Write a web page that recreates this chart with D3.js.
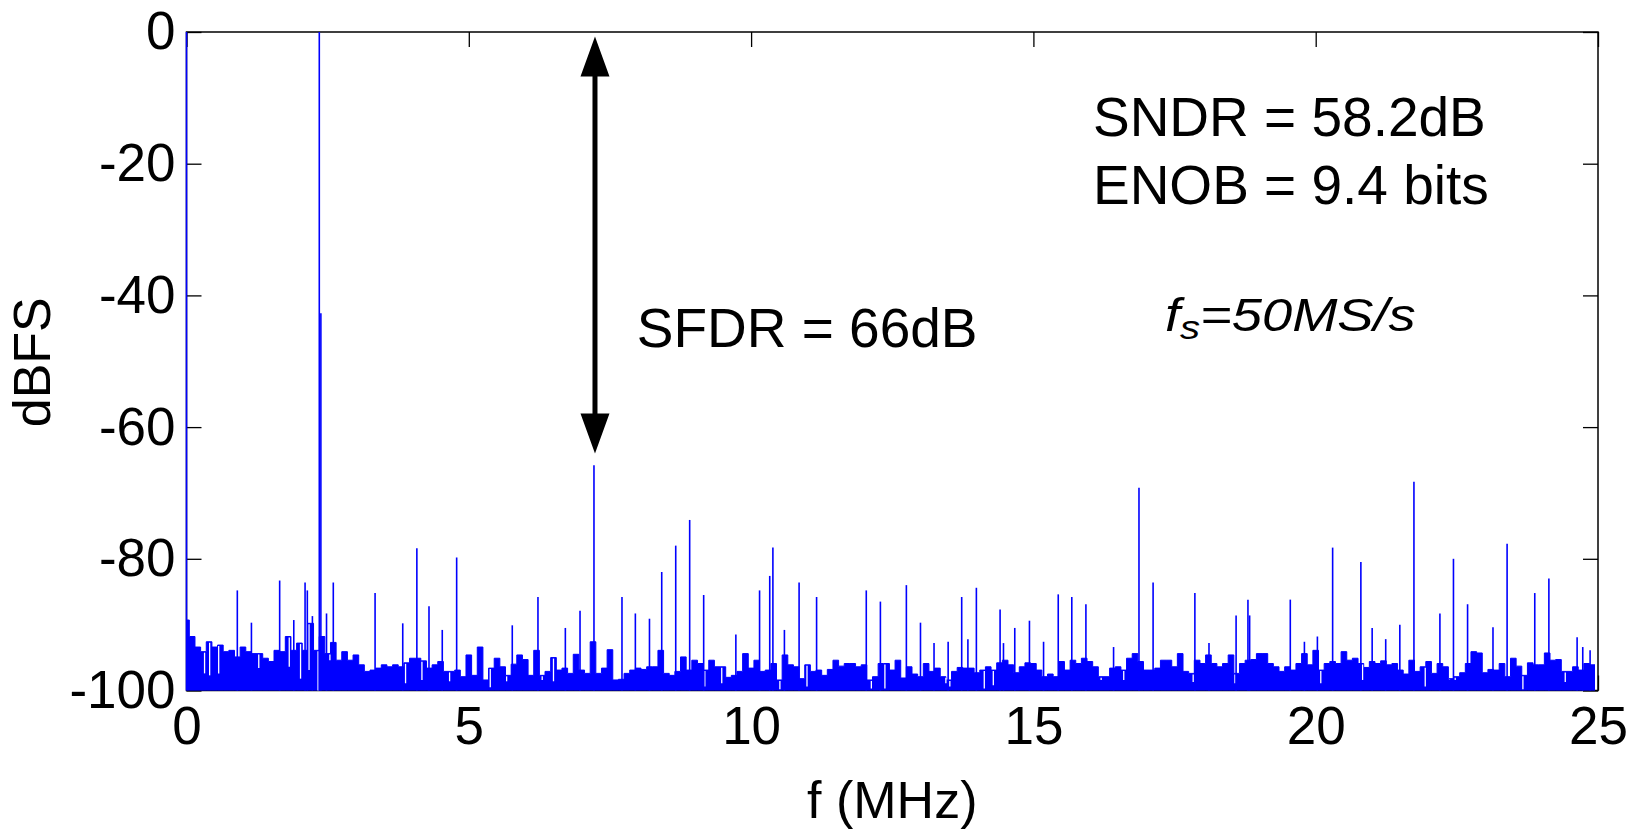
<!DOCTYPE html>
<html>
<head>
<meta charset="utf-8">
<script src="https://cdn.jsdelivr.net/npm/d3@7"></script>
<style>
  html, body { margin: 0; padding: 0; background: #fff; }
  #chart { width: 1635px; height: 832px; }
  text { font-family: "Liberation Sans", Arial, Helvetica, sans-serif; fill: #000; }
</style>
</head>
<body>
<div id="chart"></div>
<script>
// output spectrum of the ADC, 0 - 25 MHz (fs = 50MS/s)
const xTicks = [0, 5, 10, 15, 20, 25];
const yTicks = [0, -20, -40, -60, -80, -100];

// noise floor read every 0.1 MHz (dBFS)
const binStep = 0.1;
const noiseFloor = [
  -89.3, -91.8, -93.4, -94.1, -92.6, -93.4, -93.1, -94.1, -93.9, -94.9,
  -93.4, -94.1, -94.4, -94.4, -95.1, -95.6, -93.9, -94.1, -91.8, -93.9,
  -92.8, -93.9, -89.8, -93.9, -91.8, -94.4, -92.7, -95.4, -94.1, -95.4,
  -94.6, -96.1, -97.1, -96.9, -96.6, -96.1, -96.4, -96.1, -96.4, -95.8,
  -95.1, -95.1, -95.5, -96.6, -96.1, -95.6, -97.1, -97.1, -96.9, -97.9,
  -94.6, -97.7, -93.4, -98.4, -96.6, -95.1, -96.4, -97.7, -96.0, -94.6,
  -95.3, -97.7, -93.9, -97.7, -97.1, -95.0, -96.9, -96.6, -97.4, -94.5,
  -96.9, -97.4, -92.6, -97.4, -96.6, -93.8, -98.4, -98.3, -97.4, -96.9,
  -96.6, -96.8, -96.4, -96.4, -93.9, -97.4, -97.7, -97.1, -94.9, -96.9,
  -95.4, -95.9, -96.9, -95.4, -96.4, -96.4, -98.0, -97.7, -97.1, -94.4,
  -96.6, -95.4, -97.1, -96.9, -95.9, -98.4, -94.6, -96.1, -96.4, -98.2,
  -96.1, -97.1, -96.9, -97.7, -96.8, -95.4, -96.3, -95.9, -95.9, -96.4,
  -96.1, -98.4, -97.9, -95.9, -95.9, -96.9, -95.4, -98.1, -96.4, -97.5,
  -97.9, -95.9, -97.1, -96.6, -97.9, -98.4, -97.1, -96.5, -96.6, -96.6,
  -97.3, -96.9, -96.4, -96.9, -95.8, -95.4, -96.1, -97.3, -96.4, -95.8,
  -95.9, -96.9, -97.9, -97.5, -97.9, -95.6, -96.9, -95.4, -95.9, -95.1,
  -95.6, -96.4, -97.9, -97.9, -96.6, -96.4, -96.9, -95.1, -94.4, -95.6,
  -96.9, -96.9, -96.6, -95.4, -95.4, -96.4, -94.4, -97.1, -97.4, -95.4,
  -95.9, -94.6, -95.9, -96.4, -95.9, -94.6, -97.4, -95.9, -95.4, -95.3,
  -94.4, -94.4, -95.9, -96.4, -97.1, -96.4, -96.9, -95.9, -94.4, -96.1,
  -93.9, -96.9, -95.9, -95.6, -95.9, -94.1, -95.4, -95.1, -95.9, -96.5,
  -95.6, -95.9, -95.5, -96.1, -95.9, -96.9, -97.5, -95.4, -97.1, -96.4,
  -95.6, -97.4, -95.9, -96.4, -98.2, -97.9, -97.3, -95.9, -94.1, -94.3,
  -97.3, -96.8, -96.9, -95.9, -97.9, -95.1, -96.3, -97.7, -95.8, -96.1,
  -96.1, -94.3, -95.4, -95.3, -97.1, -97.1, -96.4, -96.9, -95.9, -96.1,
  -97.1
];

// single-bin tones [MHz, dBFS]
const spurs = [
  [0.0, 0], [0.90, -84.8], [1.15, -89.7], [1.65, -83.3], [1.90, -89.3], [2.10, -83.6],
  [2.14, -84.8], [2.23, -88.7], [2.352, 0], [2.38, -42.7], [2.48, -88.3], [2.60, -83.6],
  [3.34, -85.2], [3.83, -89.8], [4.08, -78.4], [4.295, -87.2], [4.53, -90.8], [4.785, -79.8],
  [5.77, -90.1], [6.225, -85.8], [6.71, -90.5], [6.97, -87.9], [7.217, -65.8], [7.713, -85.8],
  [7.95, -88.3], [8.20, -89.1], [8.417, -82.0], [8.665, -78.0], [8.912, -74.1], [9.16, -85.5],
  [9.73, -91.5], [10.15, -84.8], [10.33, -82.6], [10.386, -78.3], [10.59, -90.8], [10.85, -83.6],
  [11.16, -85.8], [12.04, -84.8], [12.29, -86.5], [12.75, -84.0], [13.0, -89.7], [13.24, -92.8],
  [13.49, -92.6], [13.73, -85.8], [13.84, -92.2], [13.99, -84.4], [14.41, -87.7], [14.47, -92.8],
  [14.67, -90.5], [14.93, -89.4], [15.18, -92.6], [15.44, -85.4], [15.68, -85.8], [15.93, -86.9],
  [16.42, -93.4], [16.87, -69.2], [17.12, -83.6], [17.86, -85.2], [18.11, -92.8], [18.59, -88.6],
  [18.80, -86.2], [18.83, -88.6], [19.55, -86.2], [19.80, -92.6], [20.03, -91.8], [20.30, -78.3],
  [20.80, -80.5], [21.0, -90.5], [21.24, -92.2], [21.49, -90.0], [21.74, -68.3], [22.20, -88.3],
  [22.44, -80.0], [22.69, -86.9], [23.14, -90.4], [23.39, -77.7], [23.88, -85.2], [24.13, -83.0],
  [24.63, -91.9], [24.73, -93.4], [24.86, -93.9]
];

// narrow drops below the noise floor [MHz, dBFS]
const dips = [
  [0.32, -97.4], [0.41, -97.7], [0.57, -97.4], [1.28, -96.6], [1.82, -96.4], [2.02, -98.2],
  [2.17, -96.9], [2.33, -100], [2.54, -95.4], [3.88, -98.9], [4.17, -98.4], [4.66, -98.6],
  [5.38, -99.5], [5.67, -98.6], [6.3, -98.4], [6.5, -98.6], [9.18, -99.4], [9.48, -98.9],
  [10.51, -99.8], [10.99, -99.4], [12.13, -99.7], [12.37, -99.7], [13.45, -98.9], [13.52, -99.4],
  [14.13, -99.7], [14.29, -99.2], [16.2, -98.4], [16.60, -98.4], [17.83, -98.7], [18.57, -98.9],
  [20.09, -98.9], [20.83, -98.4], [21.94, -99.4], [22.37, -98.4], [22.47, -98.4], [23.67, -99.8],
  [24.42, -98.7]
];

// annotations, in data coordinates
const sfdrArrow = {f: 7.235, top: -0.7, bottom: -64.0};
const notes = [
  {text: 'SNDR = 58.2dB', f: 16.055, db: -15.8},
  {text: 'ENOB = 9.4 bits', f: 16.055, db: -26.1},
  {text: 'SFDR = 66dB', f: 7.974, db: -47.8}
];
const fsNote = {f: 17.33, db: -45.4};

const chart = {};

chart.create = function(config){
  this.config = config;
  this.config.margin = {top: 32, right: 37, bottom: 141.5, left: 186.5};
  this.config.width_svg = 1635;
  this.config.height_svg = 832;
  this.config.svg = d3.select(`#${config.target}`)
                      .append('svg')
                      .attr('width', this.config.width_svg)
                      .attr('height', this.config.height_svg)
                      .style('background', '#fff');
  this.update();
}

chart.update = function(){
  let margin = this.config.margin,
      width_svg = this.config.width_svg,
      height_svg = this.config.height_svg,
      svg = this.config.svg;
  let blue = '#0000ff';

  let xScale = d3.scaleLinear()
                .domain([0, 25])
                .range([margin.left, width_svg - margin.right]);
  let yScale = d3.scaleLinear()
                .domain([-100, 0])
                .range([height_svg - margin.bottom, margin.top]);

  // box
  svg.append('rect')
     .attr('x', xScale(0)).attr('y', yScale(0))
     .attr('width', xScale(25) - xScale(0))
     .attr('height', yScale(-100) - yScale(0))
     .attr('fill', 'none')
     .attr('stroke', '#000')
     .attr('stroke-width', 1.5);

  let tickStyle = g => g.call(g => g.select('.domain').remove())
                        .call(g => g.selectAll('.tick line').attr('stroke', '#000').attr('stroke-width', 1.3))
                        .call(g => g.selectAll('.tick text').style('font-size', '53px'));

  svg.append('g')
     .attr('transform', `translate(0, ${yScale(-100)})`)
     .call(d3.axisBottom(xScale).tickValues(xTicks).tickSizeInner(-15).tickSizeOuter(0)
             .tickPadding(16).tickFormat(d => String(d)))
     .call(tickStyle);
  svg.append('g')
     .attr('transform', `translate(${xScale(0)}, 0)`)
     .call(d3.axisLeft(yScale).tickValues(yTicks).tickSizeInner(-15).tickSizeOuter(0)
             .tickPadding(11).tickFormat(d => String(d)))
     .call(tickStyle);
  svg.append('g')
     .attr('transform', `translate(0, ${yScale(0)})`)
     .call(d3.axisTop(xScale).tickValues(xTicks).tickSizeInner(-15).tickSizeOuter(0).tickFormat(''))
     .call(tickStyle);
  svg.append('g')
     .attr('transform', `translate(${xScale(25)}, 0)`)
     .call(d3.axisRight(yScale).tickValues(yTicks).tickSizeInner(-15).tickSizeOuter(0).tickFormat(''))
     .call(tickStyle);

  // axis titles
  svg.append('text')
     .attr('transform', `translate(50, ${(yScale(0) + yScale(-100)) / 2 + 1}) rotate(-90)`)
     .attr('text-anchor', 'middle')
     .style('font-size', '52px')
     .text('dBFS');
  svg.append('text')
     .attr('x', (xScale(0) + xScale(25)) / 2)
     .attr('y', 818)
     .attr('text-anchor', 'middle')
     .style('font-size', '52px')
     .text('f (MHz)');

  // spectrum
  svg.append('clipPath').attr('id', 'clip_noise')
     .append('rect')
     .attr('x', xScale(0)).attr('y', yScale(0))
     .attr('width', xScale(25) - xScale(0) - 3)
     .attr('height', yScale(-100) - yScale(0));

  let area = d3.area()
              .curve(d3.curveStep)
              .x((d, i) => xScale(i * binStep))
              .y0(yScale(-100))
              .y1(d => yScale(d));

  svg.append('path')
     .datum(noiseFloor)
     .attr('clip-path', 'url(#clip_noise)')
     .attr('fill', blue)
     .attr('stroke', blue)
     .attr('stroke-width', 1)
     .attr('d', area);

  svg.append('g')
     .attr('id', 'g_dips')
     .selectAll('line')
     .data(dips.filter(d => d[1] < noiseFloor[Math.round(d[0] / binStep)]))
     .enter().append('line')
       .attr('x1', d => xScale(d[0])).attr('x2', d => xScale(d[0]))
       .attr('y1', d => yScale(noiseFloor[Math.round(d[0] / binStep)]) + 1)
       .attr('y2', d => yScale(d[1]))
       .attr('stroke', '#fff')
       .attr('stroke-width', 1.3);

  svg.append('g')
     .attr('id', 'g_spurs')
     .selectAll('line')
     .data(spurs)
     .enter().append('line')
       .attr('x1', d => xScale(d[0])).attr('x2', d => xScale(d[0]))
       .attr('y1', yScale(-100))
       .attr('y2', d => yScale(d[1]))
       .attr('stroke', blue)
       .attr('stroke-width', 1.6);

  // SFDR arrow
  let ax = xScale(sfdrArrow.f),
      yTop = yScale(sfdrArrow.top),
      yBot = yScale(sfdrArrow.bottom),
      headL = 40, headW = 14.5;
  svg.append('line')
     .attr('x1', ax).attr('x2', ax)
     .attr('y1', yTop + headL - 2).attr('y2', yBot - headL + 2)
     .attr('stroke', '#000')
     .attr('stroke-width', 5);
  svg.append('path')
     .attr('d', `M${ax},${yTop}L${ax - headW},${yTop + headL}L${ax + headW},${yTop + headL}Z`
              + `M${ax},${yBot}L${ax - headW},${yBot - headL}L${ax + headW},${yBot - headL}Z`)
     .attr('fill', '#000');

  // text notes
  svg.append('g')
     .selectAll('text')
     .data(notes)
     .enter().append('text')
       .attr('x', d => xScale(d.f))
       .attr('y', d => yScale(d.db))
       .style('font-size', '55px')
       .text(d => d.text);

  let fs = svg.append('text')
              .attr('transform', `translate(${xScale(fsNote.f)}, ${yScale(fsNote.db)}) scale(1.18, 1)`)
              .style('font-size', '46px')
              .style('font-style', 'italic');
  fs.append('tspan').text('f');
  fs.append('tspan').attr('dy', 8).style('font-size', '34px').text('s');
  fs.append('tspan').attr('dy', -8).text('=50MS/s');
}

chart.create({target: 'chart'});
</script>
</body>
</html>
